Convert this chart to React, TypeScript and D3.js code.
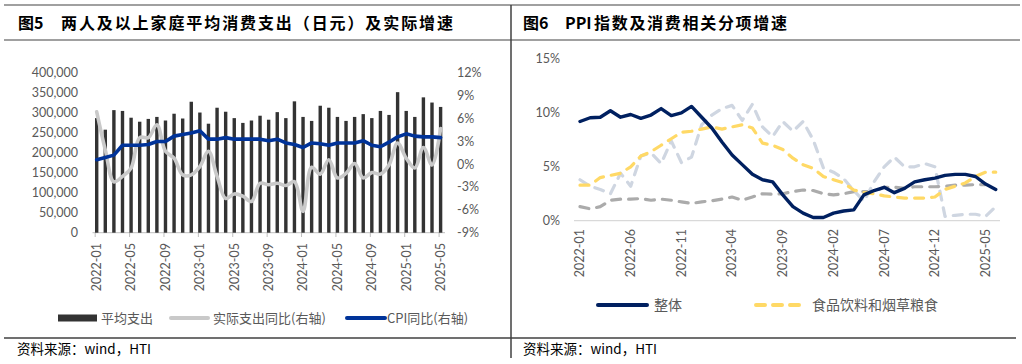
import React from 'react';
import * as d3 from 'd3';

// ---- left chart data: 2022-01 .. 2025-05
const leftMonths = d3.timeMonth
  .range(new Date(2022, 0, 1), new Date(2025, 5, 1))
  .map(d3.timeFormat('%Y-%m'));

const avgSpend = [
  287000, 258000, 307000, 305000, 288000, 278000, 285000, 290000, 281000, 298000, 286000, 328000,
  301000, 273000, 313000, 303000, 287000, 275000, 281000, 293000, 283000, 302000, 287000, 329000,
  290000, 280000, 318000, 313000, 290000, 280000, 290000, 297000, 287000, 305000, 295000, 352000,
  305000, 290000, 339000, 326000, 315000,
];
const realYoY = [
  6.9, 1.9, -2.3, -1.6, -0.5, 3.5, 3.5, 5.2, 1.7, 0.8, -1.4, -1.4,
  -0.3, 1.7, -1.6, -4.5, -3.9, -4.2, -4.9, -2.5, -2.7, -2.5, -2.8, -2.3,
  -6.2, -0.4, -1.3, 0.6, -1.8, -1.2, 0.1, -1.8, -1.1, -1.3, -0.1, 2.8,
  0.8, -0.5, 2.2, -0.1, 4.7,
];
const cpiYoY = [
  0.6, 0.9, 1.2, 2.5, 2.5, 2.5, 2.6, 3.0, 3.0, 3.7, 3.9, 4.1,
  4.4, 3.3, 3.3, 3.5, 3.3, 3.3, 3.3, 3.3, 3.1, 3.3, 2.8, 2.6,
  2.2, 2.8, 2.7, 2.5, 2.8, 2.8, 2.8, 3.1, 2.5, 2.3, 2.9, 3.6,
  4.0, 3.7, 3.6, 3.6, 3.5,
];
const leftTicks = [0, 50000, 100000, 150000, 200000, 250000, 300000, 350000, 400000];
const rightTicks = [-9, -6, -3, 0, 3, 6, 9, 12];

// ---- right chart data: 2022-01 .. 2025-06
const rightMonths = d3.timeMonth
  .range(new Date(2022, 0, 1), new Date(2025, 6, 1))
  .map(d3.timeFormat('%Y-%m'));

const ppiTotal = [
  9.2, 9.55, 9.6, 10.2, 9.6, 9.85, 9.5, 9.8, 10.4, 9.75, 10.0, 10.6,
  9.6, 8.6, 7.3, 6.1, 5.2, 4.3, 3.8, 3.6, 2.4, 1.3, 0.7, 0.3,
  0.3, 0.7, 0.9, 1.0, 2.4, 2.8, 3.1, 2.6, 3.0, 3.6, 3.8, 3.95,
  4.2, 4.3, 4.3, 4.1, 3.4, 2.9,
];
const foodBev = [
  3.3, 3.3, 4.0, 4.2, 4.4, 5.0, 6.0, 6.4, 7.0, 7.6, 8.2, 8.3,
  8.5, 8.7, 8.5, 8.7, 8.9, 8.6, 7.2, 7.0, 6.6, 5.8, 5.2, 4.85,
  4.1, 3.8, 3.5, 2.85, 2.6, 2.5, 2.3, 2.2, 2.1, 2.1, 2.1, 2.2,
  2.9, 3.2, 3.5, 4.1, 4.5, 4.5,
];
const lightSeries = [
  3.8, 3.2, 2.9, 2.5, 4.4, 3.2, 6.0, 6.3, 5.3, 7.4, 5.4, 5.9,
  8.9, 9.8, 10.4, 10.7, 9.3, 10.8, 8.7, 7.8, 9.2, 8.3, 9.2, 7.5,
  4.9, 4.5, 3.9, 2.8, 1.8, 3.6, 5.0, 5.9, 5.0, 5.0, 5.3, 5.0,
  0.4, 0.5, 0.6, 0.6, 0.4, 1.3,
];
const graySeries = [
  1.3, 1.1, 1.3, 1.9, 2.0, 2.0, 2.05, 1.9, 2.0, 1.9, 1.75, 1.6,
  1.75, 1.85, 2.0, 2.2, 1.9, 2.2, 2.5, 2.45, 2.5, 2.7, 2.85, 2.8,
  2.5, 2.4, 2.5, 2.7, 2.7, 2.7, 3.1, 3.1, 3.0, 3.15, 3.15, 3.15,
  3.2, 3.3, 3.3, 3.35, 3.35,
];
const ppiTicks = [0, 5, 10, 15];

const CJK = '"Noto Sans CJK SC", sans-serif';
const NUM = 'Lato, "Open Sans", sans-serif';
const GREY_TXT = '#595959';

function LeftChart() {
  const x = d3.scalePoint<string>().domain(leftMonths).range([96.7, 440.6]);
  const yL = d3.scaleLinear().domain([0, 400000]).range([232.7, 73]);
  const yR = d3.scaleLinear().domain([-9, 12]).range([232.7, 73]);
  const barW = 3.4;

  const realLine = d3.line<number>()
    .x((_, i) => x(leftMonths[i])!)
    .y(d => yR(d))
    .curve(d3.curveCatmullRom.alpha(0.5));
  const cpiLine = d3.line<number>()
    .x((_, i) => x(leftMonths[i])!)
    .y(d => yR(d));

  return (
    <g>
      {leftTicks.map(t => (
        <text key={t} x={78} y={yL(t)} dy="0.35em" textAnchor="end"
          fontFamily={NUM} fontSize={12.5} fill={GREY_TXT}>
          {d3.format(',')(t)}
        </text>
      ))}
      {rightTicks.map(t => (
        <text key={t} x={457} y={yR(t)} dy="0.35em" textAnchor="start"
          fontFamily={NUM} fontSize={12.5} fill={GREY_TXT}>
          {t + '%'}
        </text>
      ))}
      <line x1={92.5} x2={445} y1={232.7} y2={232.7} stroke="#bfbfbf" strokeWidth={1} />
      {leftMonths.map((m, i) => i % 4 === 0 ? (
        <line key={m} x1={x(m)! - 1.5} x2={x(m)! - 1.5} y1={232.7} y2={237} stroke="#bfbfbf" />
      ) : null)}
      {avgSpend.map((v, i) => (
        <rect key={i} x={x(leftMonths[i])! - barW / 2} y={yL(v)} width={barW}
          height={yL(0) - yL(v)} fill="#333333" />
      ))}
      <path d={realLine(realYoY)!} fill="none" stroke="#c9c9c9" strokeWidth={3.6}
        strokeLinejoin="round" strokeLinecap="round" />
      <path d={cpiLine(cpiYoY)!} fill="none" stroke="#003399" strokeWidth={3.6}
        strokeLinejoin="round" strokeLinecap="round" />
      {leftMonths.map((m, i) => i % 4 === 0 ? (
        <text key={m} transform={`translate(${x(m)},243) rotate(-90)`} dy="0.35em"
          textAnchor="end" fontFamily={NUM} fontSize={12.5} fill={GREY_TXT}>{m}</text>
      ) : null)}
      {/* legend */}
      <rect x={58} y={314.5} width={39} height={7} fill="#333333" />
      <text x={101} y={318} dy="0.35em" fontFamily={CJK} fontSize={13} fill={GREY_TXT}>平均支出</text>
      <line x1={171} x2={208} y1={318} y2={318} stroke="#c9c9c9" strokeWidth={4} strokeLinecap="round" />
      <text x={213} y={318} dy="0.35em" fontFamily={CJK} fontSize={13} fill={GREY_TXT}>实际支出同比(右轴)</text>
      <line x1={347} x2={385} y1={318} y2={318} stroke="#003399" strokeWidth={4} strokeLinecap="round" />
      <text x={387} y={318} dy="0.35em" fontFamily={CJK} fontSize={13} fill={GREY_TXT}>CPI同比(右轴)</text>
    </g>
  );
}

function RightChart() {
  const x = d3.scalePoint<string>().domain(rightMonths).range([580, 580 + 41 * 10.14]);
  const y = d3.scaleLinear().domain([0, 15]).range([220.7, 59]);
  const line = d3.line<number>()
    .x((_, i) => x(rightMonths[i])!)
    .y(d => y(d));

  const dashed = { fill: 'none', strokeWidth: 3.2, strokeDasharray: '9 8', strokeLinecap: 'round' as const, strokeLinejoin: 'round' as const };

  return (
    <g>
      {ppiTicks.map(t => (
        <text key={t} x={560} y={y(t)} dy="0.35em" textAnchor="end"
          fontFamily={NUM} fontSize={12.5} fill={GREY_TXT}>{t + '%'}</text>
      ))}
      <line x1={574} x2={1000} y1={220.7} y2={220.7} stroke="#d9d9d9" strokeWidth={1.2} />
      <path d={line(graySeries)!} stroke="#ababab" {...dashed} />
      <path d={line(lightSeries)!} stroke="#cfd6e1" {...dashed} />
      <path d={line(foodBev)!} stroke="#ffd966" {...dashed} />
      <path d={line(ppiTotal)!} fill="none" stroke="#002060" strokeWidth={3.4}
        strokeLinejoin="round" strokeLinecap="round" />
      {rightMonths.map((m, i) => i % 5 === 0 ? (
        <text key={m} transform={`translate(${x(m)},229) rotate(-90)`} dy="0.35em"
          textAnchor="end" fontFamily={NUM} fontSize={12.5} fill={GREY_TXT}>{m}</text>
      ) : null)}
      {/* legend */}
      <line x1={598} x2={647} y1={305} y2={305} stroke="#002060" strokeWidth={4} strokeLinecap="round" />
      <text x={654} y={305} dy="0.35em" fontFamily={CJK} fontSize={14} fill={GREY_TXT}>整体</text>
      <line x1={756} x2={802} y1={305} y2={305} stroke="#ffd966" strokeWidth={4}
        strokeDasharray="9 8" strokeLinecap="round" />
      <text x={812} y={305} dy="0.35em" fontFamily={CJK} fontSize={14} fill={GREY_TXT}>食品饮料和烟草粮食</text>
    </g>
  );
}

export default function App() {
  const titleStyle = { fontFamily: CJK, fontWeight: 'bold' as const, fontSize: 16, fill: '#000' };
  return (
    <svg width={1022} height={364} viewBox="0 0 1022 364"
      style={{ position: 'absolute', left: 0, top: 0, background: '#fff' }}>
      {/* frame */}
      <line x1={4} x2={1020} y1={5} y2={5} stroke="#808080" strokeWidth={1.5} />
      <line x1={4} x2={1020} y1={40} y2={40} stroke="#808080" strokeWidth={1.5} />
      <line x1={4} x2={1016} y1={338} y2={338} stroke="#404040" strokeWidth={1.5} />
      <line x1={511} x2={511} y1={5} y2={358} stroke="#404040" strokeWidth={1.5} />

      {/* titles */}
      <text x={18} y={29} {...titleStyle}>图5</text>
      <text x={61} y={29} {...titleStyle}
        textLength={392} lengthAdjust="spacing">两人及以上家庭平均消费支出（日元）及实际增速</text>
      <text x={523} y={29} {...titleStyle}>图6</text>
      <text x={565} y={29} {...titleStyle}>PPI</text>
      <text x={594} y={29} {...titleStyle}
        textLength={193} lengthAdjust="spacing">指数及消费相关分项增速</text>

      <LeftChart />
      <RightChart />

      {/* sources */}
      <text x={17} y={354} fontFamily={CJK} fontSize={13.5} fill="#000">资料来源：wind，HTI</text>
      <text x={523} y={354} fontFamily={CJK} fontSize={13.5} fill="#000">资料来源：wind，HTI</text>
    </svg>
  );
}
